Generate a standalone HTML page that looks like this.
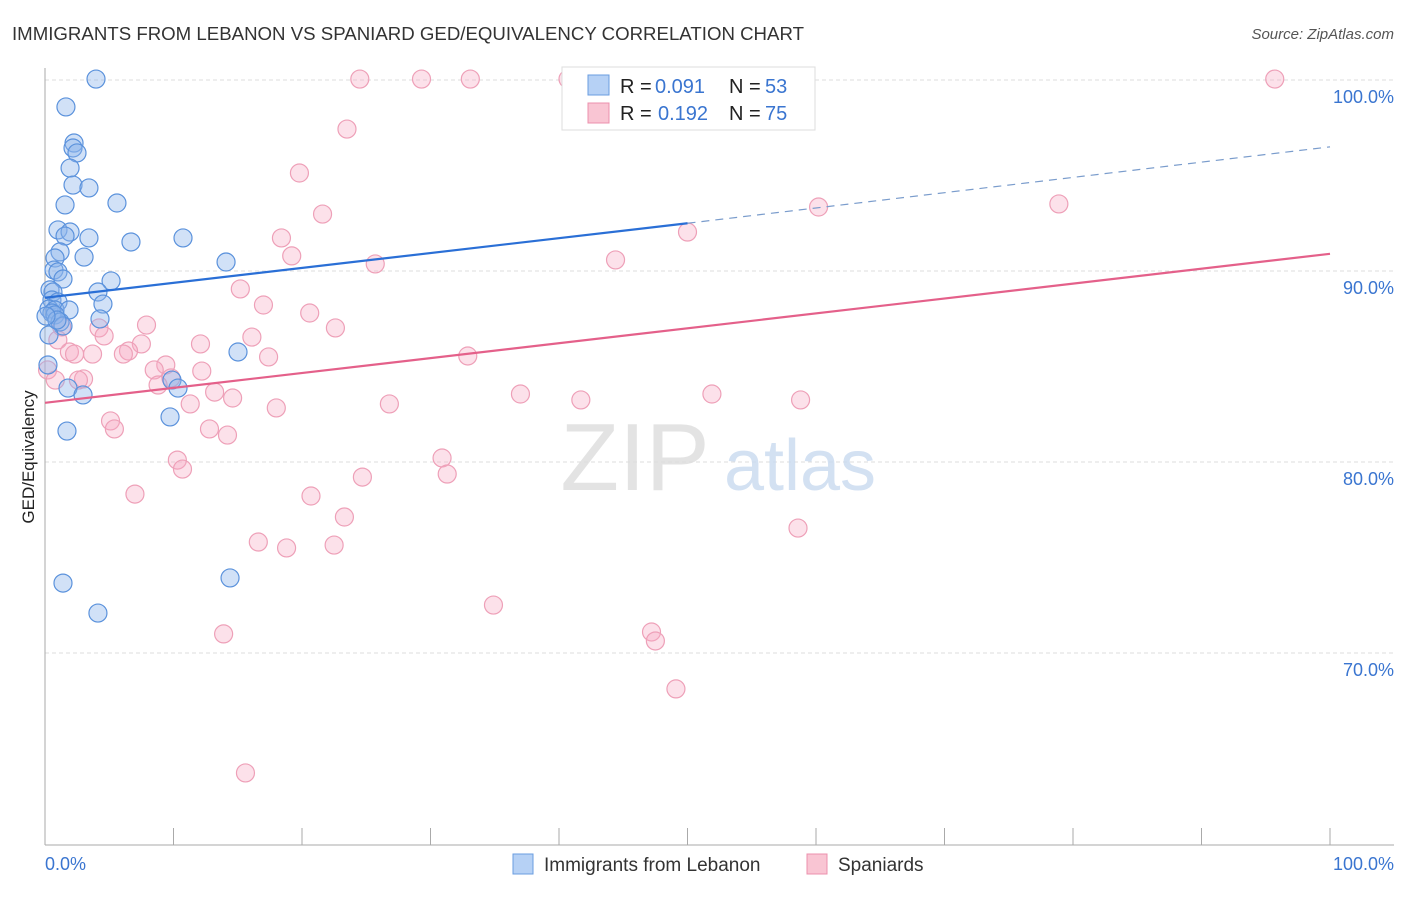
<!DOCTYPE html>
<html><head><meta charset="utf-8"><style>
body{margin:0;background:#fff;font-family:"Liberation Sans",sans-serif;}
svg text{font-family:"Liberation Sans",sans-serif;}
</style></head><body>
<svg id="c" width="1406" height="892" viewBox="0 0 1406 892" xmlns="http://www.w3.org/2000/svg">
<text x="12" y="40" font-size="18" fill="#333" textLength="792" lengthAdjust="spacingAndGlyphs">IMMIGRANTS FROM LEBANON VS SPANIARD GED/EQUIVALENCY CORRELATION CHART</text>
<text x="1394" y="39" font-size="15" fill="#555" text-anchor="end" font-style="italic">Source: ZipAtlas.com</text>
<g id="grid"></g>
<g><text x="635" y="490" font-size="96" fill="#ddd" font-family="Liberation Serif" text-anchor="middle" opacity="0.8">ZIP</text><text x="800" y="490" font-size="72" fill="#c9daf0" text-anchor="middle" opacity="0.8">atlas</text></g>
<line x1="45" y1="68" x2="45" y2="845" stroke="#aaa"/>
<line x1="45" y1="845" x2="1394" y2="845" stroke="#aaa"/>
<g id="xticks"></g>
<g id="pts"></g>
<g id="lines"></g>
<text transform="translate(34,457) rotate(-90)" font-size="17" fill="#222" text-anchor="middle">GED/Equivalency</text>
<text x="45" y="870" font-size="18" fill="#3a75d0">0.0%</text>
<text x="1394" y="870" font-size="18" fill="#3a75d0" text-anchor="end">100.0%</text>
<g>
<rect x="562" y="67" width="253" height="63" fill="#fff" stroke="#ddd"/>
<rect x="588" y="75" width="21" height="20" fill="#b6d1f5" stroke="#6a9de0"/>
<rect x="588" y="103" width="21" height="20" fill="#f9c5d3" stroke="#ec90ac"/>
<text x="620" y="93" font-size="20" fill="#222">R =</text>
<text x="655" y="93" font-size="20" fill="#3a75d0">0.091</text>
<text x="729" y="93" font-size="20" fill="#222">N =</text>
<text x="765" y="93" font-size="20" fill="#3a75d0">53</text>
<text x="620" y="120" font-size="20" fill="#222">R =</text>
<text x="658" y="120" font-size="20" fill="#3a75d0">0.192</text>
<text x="729" y="120" font-size="20" fill="#222">N =</text>
<text x="765" y="120" font-size="20" fill="#3a75d0">75</text>
</g>
<g>
<rect x="513" y="854" width="20" height="20" fill="#b6d1f5" stroke="#6a9de0"/>
<text x="544" y="871" font-size="19" fill="#333">Immigrants from Lebanon</text>
<rect x="807" y="854" width="20" height="20" fill="#f9c5d3" stroke="#ec90ac"/>
<text x="838" y="871" font-size="19" fill="#333">Spaniards</text>
</g>
</svg>
<script>
const yTicks=[100,90,80,70];
const yTickLabels=["100.0%","90.0%","80.0%","70.0%"];
const xTicks=[0,10,20,30,40,50,60,70,80,90,100];
const blueX=[3.97,1.63,2.26,2.18,2.49,1.95,2.18,3.42,1.56,5.60,1.01,1.95,1.56,3.42,6.69,10.74,1.17,0.78,3.04,14.09,0.70,1.01,1.40,5.14,0.39,0.62,4.12,0.54,1.01,4.51,0.31,0.78,1.87,0.54,0.78,4.28,1.17,1.40,0.31,15.02,1.79,2.96,9.88,10.35,9.73,1.71,1.40,4.12,14.40,42.4,0.23,0.93,0.08];
const blueY=[100.05,98.59,96.70,96.44,96.18,95.39,94.50,94.35,93.46,93.56,92.15,92.04,91.83,91.73,91.52,91.73,91.0,90.68,90.73,90.47,90.05,89.95,89.58,89.48,89.01,88.90,88.90,88.48,88.38,88.27,88.01,87.96,87.96,87.80,87.70,87.49,87.33,87.12,86.65,85.76,83.87,83.51,84.29,83.87,82.36,81.62,73.66,72.09,73.93,100.05,85.08,87.43,87.64];
const pinkX=[24.5,29.3,33.1,40.7,49.4,95.7,23.5,19.8,21.6,78.9,60.2,50.0,18.4,19.2,25.7,44.4,15.2,17.0,20.6,22.6,7.9,4.2,4.6,1.3,1.0,12.1,7.5,6.5,6.1,3.7,1.9,2.3,32.9,17.4,16.1,9.4,8.5,12.2,3.0,2.6,9.8,8.8,13.2,14.6,11.3,18.0,26.8,37.0,41.7,51.9,58.8,5.1,5.4,12.8,14.2,10.3,10.7,30.9,31.3,24.7,7.0,20.7,23.3,16.6,18.8,22.5,58.6,34.9,13.9,47.2,47.5,49.1,15.6,0.2,0.8];
const pinkY=[100.05,100.05,100.05,100.05,100.05,100.05,97.43,95.13,92.98,93.51,93.35,92.04,91.73,90.79,90.37,90.58,89.06,88.22,87.80,87.02,87.17,87.02,86.60,87.07,86.39,86.18,86.18,85.81,85.65,85.65,85.76,85.65,85.55,85.50,86.54,85.08,84.82,84.76,84.35,84.29,84.40,84.03,83.66,83.35,83.04,82.83,83.04,83.56,83.25,83.56,83.25,82.15,81.73,81.73,81.41,80.10,79.63,80.21,79.37,79.21,78.32,78.22,77.12,75.81,75.50,75.65,76.54,72.51,71.0,71.1,70.63,68.12,63.72,84.82,84.29];
const blueTrend=[88.6,92.5,96.5];
const pinkTrend=[83.1,90.9];
const NS="http://www.w3.org/2000/svg";
const sx=v=>45+v*12.85;
const sy=v=>80+(100-v)*19.1;
function mk(t,a,p){const e=document.createElementNS(NS,t);for(const k in a)e.setAttribute(k,a[k]);p.appendChild(e);return e;}
const grid=document.getElementById('grid');
yTicks.forEach((t,i)=>{
 const l=mk('line',{x1:45,x2:1394,y1:sy(t),y2:sy(t),stroke:'#ddd','stroke-dasharray':'4,3'},grid);
 
 
 const tx=mk('text',{x:1394,y:sy(t)+23,'font-size':18,fill:'#3a75d0','text-anchor':'end'},grid);
 tx.textContent=yTickLabels[i];
 
 
});
const xt=document.getElementById('xticks');
xTicks.forEach(t=>{const l=mk('line',{x1:sx(t),x2:sx(t),y1:828,y2:845,stroke:'#aaa'},xt);
 
 });
const pts=document.getElementById('pts');
pinkX.forEach((x,i)=>{const c=mk('circle',{cx:sx(x),cy:sy(pinkY[i]),r:9,fill:'rgba(246,170,195,0.35)',stroke:'#eea0b8','stroke-width':1.2},pts);
 
 });
blueX.forEach((x,i)=>{const c=mk('circle',{cx:sx(x),cy:sy(blueY[i]),r:9,fill:'rgba(140,180,235,0.4)',stroke:'#5b92dc','stroke-width':1.2},pts);
 
 });
const ln=document.getElementById('lines');
let a=mk('line',{x1:sx(0),y1:sy(blueTrend[0]),x2:sx(50),y2:sy(blueTrend[1]),stroke:'#2a6fd6','stroke-width':2.2},ln);


a=mk('line',{x1:sx(50),y1:sy(blueTrend[1]),x2:sx(100),y2:sy(blueTrend[2]),stroke:'#7a9ccc','stroke-width':1.2,'stroke-dasharray':'8,6'},ln);


a=mk('line',{x1:sx(0),y1:sy(pinkTrend[0]),x2:sx(100),y2:sy(pinkTrend[1]),stroke:'#e4608a','stroke-width':2.2},ln);


</script>
</body></html>
